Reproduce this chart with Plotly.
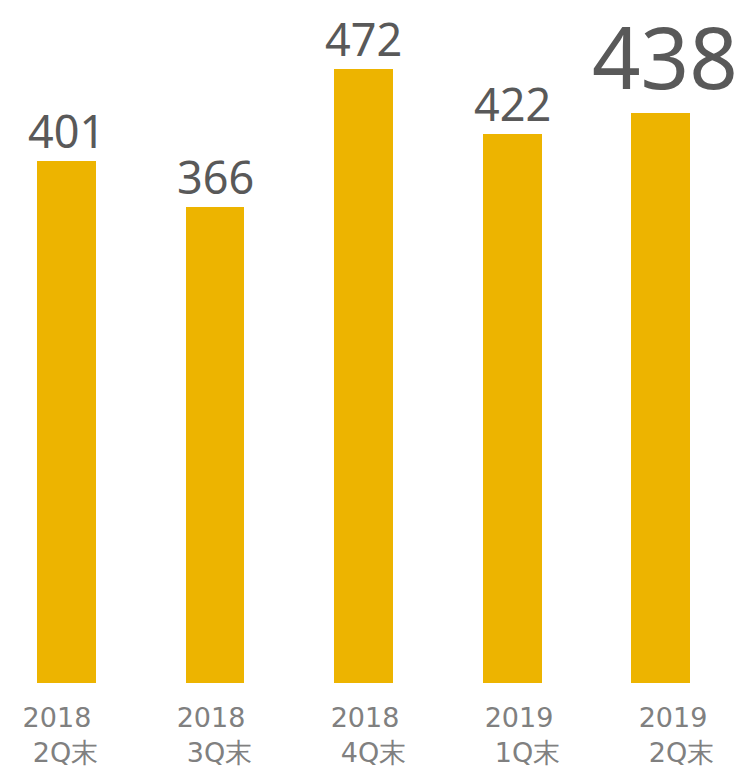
import plotly.graph_objects as go

categories = ["2018<br>\u00a0\u00a02Q末", "2018<br>\u00a0\u00a03Q末", "2018<br>\u00a0\u00a04Q末", "2019<br>\u00a0\u00a01Q末", "2019<br>\u00a0\u00a02Q末"]
values = [401, 366, 472, 422, 438]
label_sizes = [45, 45, 45, 45, 85]

x = list(range(len(values)))

fig = go.Figure()
fig.add_trace(go.Bar(
    x=x, y=values, width=0.397,
    marker=dict(color="#EDB400", line=dict(width=0)),
    hoverinfo="skip",
))
# invisible trace carrying the category axis labels
fig.add_trace(go.Scatter(
    x=x, y=[0] * len(x), xaxis="x2", mode="markers",
    marker=dict(opacity=0), hoverinfo="skip",
))

for xi, v, s in zip(x, values, label_sizes):
    fig.add_annotation(
        x=xi, y=v, text=str(v), showarrow=False,
        xanchor="center", yanchor="bottom",
        yshift=(-2 if s < 60 else -3),
        xshift=(0 if s < 60 else 4),
        font=dict(family="Noto Sans", size=s, color="#595959"),
    )

fig.update_layout(
    width=748, height=769,
    margin=dict(l=0, r=0, t=0, b=86),
    paper_bgcolor="white", plot_bgcolor="white",
    showlegend=False,
    bargap=0,
    xaxis=dict(
        range=[-0.4478, 4.589],
        showticklabels=False,
        showgrid=False, zeroline=False, showline=False, ticks="",
    ),
    xaxis2=dict(
        overlaying="x", side="bottom",
        range=[-0.37, 4.487],
        tickmode="array", tickvals=x, ticktext=categories,
        showgrid=False, zeroline=False, showline=False, ticks="",
        ticklabelstandoff=16,
        tickfont=dict(family="DejaVu Sans", size=27, color="#808080"),
    ),
    yaxis=dict(
        range=[0, 524.7], visible=False, showgrid=False, zeroline=False,
    ),
)

fig.write_html("out.html")
